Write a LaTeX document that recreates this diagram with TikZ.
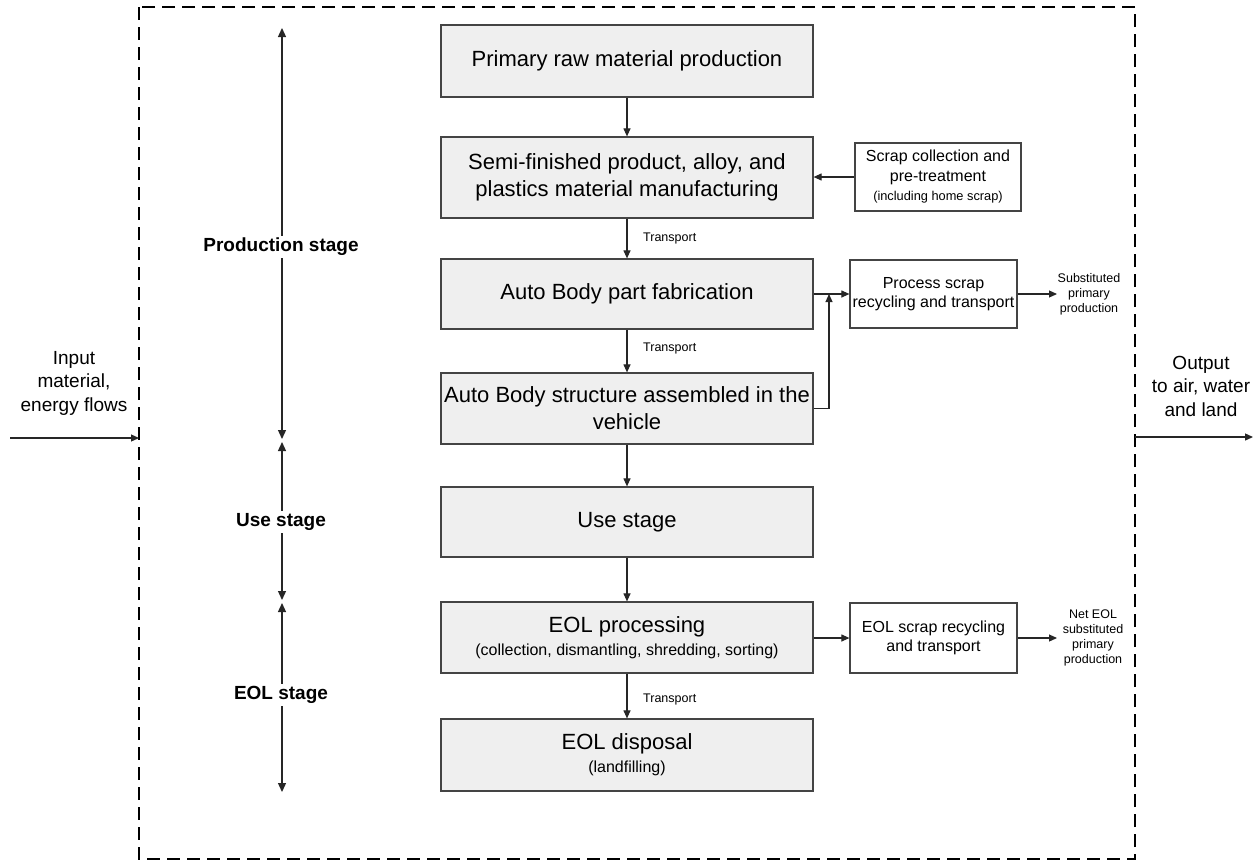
\documentclass[tikz,border=0pt]{standalone}
\usepackage{fontspec}
\setmainfont{Liberation Sans}
\usetikzlibrary{arrows.meta}
\definecolor{boxfill}{HTML}{EFEFEF}
\definecolor{boxline}{HTML}{444444}
\tikzset{
  mainbox/.style={draw=boxline, line width=1.2pt, fill=boxfill, minimum width=372pt, inner sep=0pt, align=center, font=\fontsize{22}{27}\selectfont},
  sidebox/.style={draw=boxline, line width=1.2pt, fill=white, inner sep=0pt, align=center, font=\fontsize{16}{19.5}\selectfont},
  arr/.style={-{Triangle[length=8pt,width=7pt]}, line width=1.1pt, draw=black!85},
  dblarr/.style={{Triangle[length=9pt,width=8pt]}-{Triangle[length=9pt,width=8pt]}, line width=1.3pt, draw=black!85},
  small/.style={font=\fontsize{12.5}{15}\selectfont, align=center, inner sep=0pt},
  stagelbl/.style={font=\fontsize{19}{22}\selectfont\bfseries, fill=white, inner sep=2pt},
  iolbl/.style={font=\fontsize{19}{23.5}\selectfont, align=center, inner sep=0pt}
}
\begin{document}
\begin{tikzpicture}[x=1pt,y=-1pt]
\useasboundingbox (0,0) rectangle (1258,863);
% dashed system boundary
\draw[line width=1.8pt, dash pattern=on 13pt off 7pt] (139,7) rectangle (1135,859);

% main boxes
\node[mainbox, minimum height=72pt] (b1) at (627,61) {Primary raw material production};
\node[mainbox, minimum height=81pt] (b2) at (627,177.5) {Semi-finished product, alloy, and\\plastics material manufacturing};
\node[mainbox, minimum height=70pt] (b3) at (627,294) {Auto Body part fabrication};
\node[mainbox, minimum height=71pt] (b4) at (627,408.5) {Auto Body structure assembled in the\\vehicle};
\node[mainbox, minimum height=70pt] (b5) at (627,522) {Use stage};
\node[mainbox, minimum height=71pt] (b6) at (627,637.5) {EOL processing\\[-4pt]{\fontsize{16}{19}\selectfont (collection, dismantling, shredding, sorting)}};
\node[mainbox, minimum height=72pt] (b7) at (627,755) {EOL disposal\\[-4pt]{\fontsize{16}{19}\selectfont (landfilling)}};

% side boxes
\node[sidebox, minimum width=166pt, minimum height=68pt] (sc) at (938,177) {Scrap collection and\\pre-treatment\\{\fontsize{12.8}{15}\selectfont (including home scrap)}};
\node[sidebox, minimum width=167pt, minimum height=68pt] (ps) at (933.5,294) {Process scrap\\recycling and transport};
\node[sidebox, minimum width=167pt, minimum height=70pt] (es) at (933.5,638) {EOL scrap recycling\\and transport};

% output texts of side boxes
\node[small] (sp) at (1089,294) {Substituted\\primary\\production};
\node[small] (np) at (1093,638) {Net EOL\\substituted\\primary\\production};

% main flow
\draw[arr] (b1) -- (b2);
\draw[arr] (b2) -- (b3);
\draw[arr] (b3) -- (b4);
\draw[arr] (b4) -- (b5);
\draw[arr] (b5) -- (b6);
\draw[arr] (b6) -- (b7);

% transport labels
\node[small, anchor=west] (t1) at (643,238) {Transport};
\node[small, anchor=west] (t2) at (643,348) {Transport};
\node[small, anchor=west] (t3) at (643,699) {Transport};

% side flows
\draw[arr] (sc.west) -- (b2.east |- sc.west);
\draw[arr] (b3.east) -- (ps.west);
\coordinate (j) at (829,294);
\draw[arr] (b4.east) -| (j);
\draw[arr] (ps.east) -- (1057,294);
\draw[arr] (b6.east |- es.west) -- (es.west);
\draw[arr] (es.east) -- (1057,638);

% stage axis
\coordinate (a0) at (282,28);
\coordinate (a1) at (282,439);
\coordinate (a1b) at (282,442);
\coordinate (a2) at (282,600);
\coordinate (a2b) at (282,603);
\coordinate (a3) at (282,792);
\draw[dblarr] (a0) -- (a1);
\draw[dblarr] (a1b) -- (a2);
\draw[dblarr] (a2b) -- (a3);
\node[stagelbl] (ls1) at (281,247) {Production stage};
\node[stagelbl] (ls2) at (281,522) {Use stage};
\node[stagelbl] (ls3) at (281,695) {EOL stage};

% input / output
\coordinate (inS) at (10,438);
\coordinate (inE) at (139,438);
\coordinate (outS) at (1135,437);
\coordinate (outE) at (1253,437);
\draw[arr, line width=1.3pt] (inS) -- (inE);
\draw[arr, line width=1.3pt] (outS) -- (outE);
\node[iolbl] (inl) at (74,383) {Input\\material,\\energy flows};
\node[iolbl] (outl) at (1201,386) {Output\\to air, water\\and land};
\end{tikzpicture}
\end{document}
